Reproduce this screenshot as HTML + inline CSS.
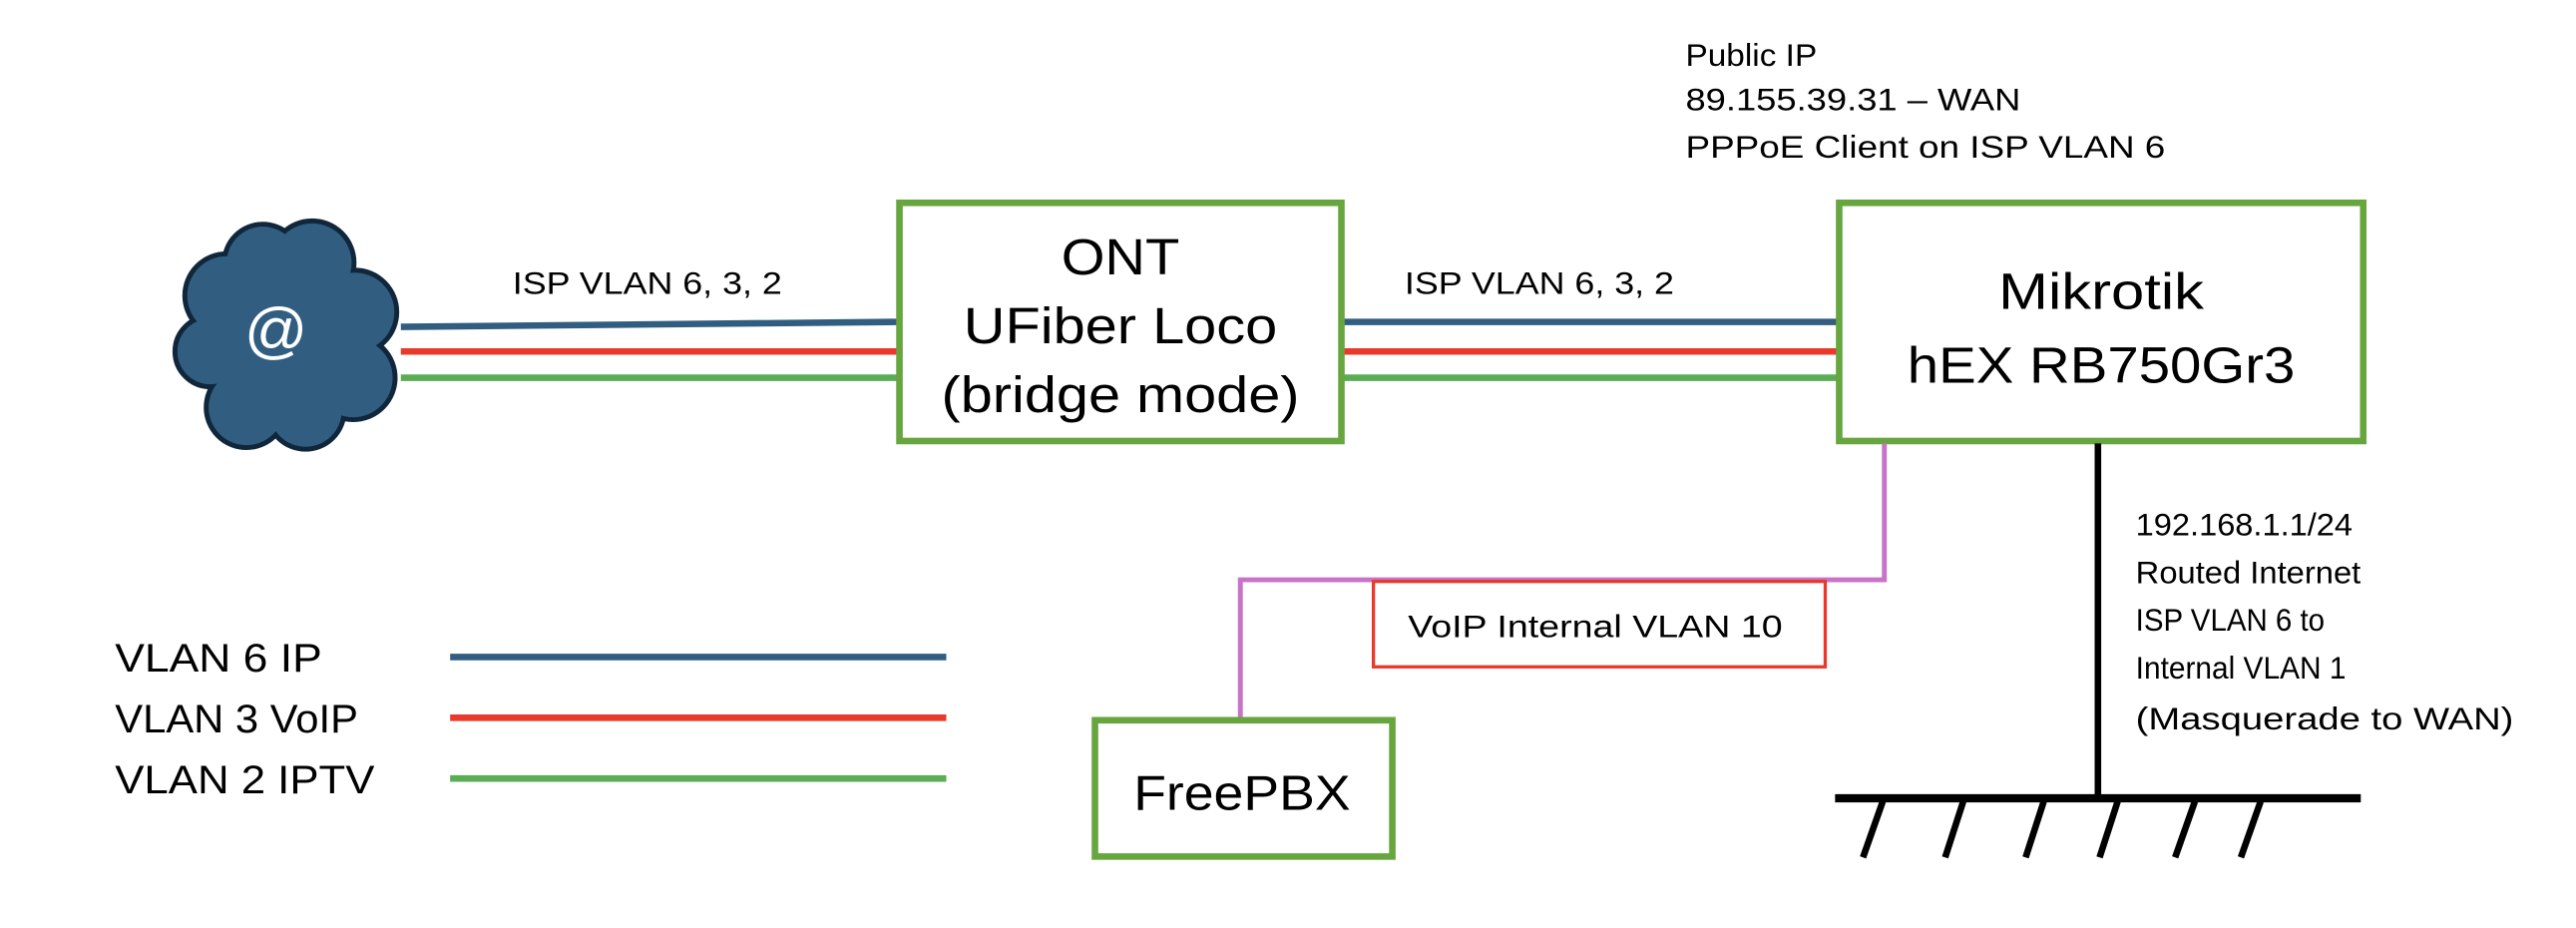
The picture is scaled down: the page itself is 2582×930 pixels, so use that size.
<!DOCTYPE html>
<html><head><style>
html,body{margin:0;padding:0;background:#fff;}
svg{display:block;}
text{font-family:"Liberation Sans",sans-serif;fill:#000;}
</style></head><body>
<svg width="2582" height="930" viewBox="0 0 1568 565" preserveAspectRatio="none" xmlns="http://www.w3.org/2000/svg">
<rect width="1568" height="565" fill="#fff"/>
<!-- cloud -->
<g stroke="#10263a" stroke-width="6" fill="#315e80">
<circle cx="138" cy="180" r="24"/><circle cx="160" cy="160" r="22"/><circle cx="190" cy="160" r="24"/>
<circle cx="216" cy="190" r="24"/><circle cx="215" cy="230" r="24"/><circle cx="186" cy="250" r="22"/>
<circle cx="150" cy="248" r="23"/><circle cx="128" cy="214" r="20"/>
</g>
<g fill="#315e80">
<circle cx="138" cy="180" r="24"/><circle cx="160" cy="160" r="22"/><circle cx="190" cy="160" r="24"/>
<circle cx="216" cy="190" r="24"/><circle cx="215" cy="230" r="24"/><circle cx="186" cy="250" r="22"/>
<circle cx="150" cy="248" r="23"/><circle cx="128" cy="214" r="20"/><circle cx="172" cy="205" r="42"/>
</g>
<text x="168" y="214" font-size="38" text-anchor="middle" style="fill:#fff">@</text>
<!-- left lines -->
<line x1="244" y1="199" x2="546" y2="196" stroke="#315e80" stroke-width="4"/>
<line x1="244" y1="214" x2="546" y2="214" stroke="#e8392a" stroke-width="4"/>
<line x1="244" y1="230" x2="546" y2="230" stroke="#5aad54" stroke-width="4"/>
<text x="312" y="179" font-size="19" textLength="164" lengthAdjust="spacingAndGlyphs">ISP VLAN 6, 3, 2</text>
<!-- right lines -->
<line x1="818" y1="196" x2="1118" y2="196" stroke="#315e80" stroke-width="4"/>
<line x1="818" y1="214" x2="1118" y2="214" stroke="#e8392a" stroke-width="4"/>
<line x1="818" y1="230" x2="1118" y2="230" stroke="#5aad54" stroke-width="4"/>
<text x="855" y="179" font-size="19" textLength="164" lengthAdjust="spacingAndGlyphs">ISP VLAN 6, 3, 2</text>
<!-- ONT box -->
<rect x="547.5" y="123.5" width="269" height="145" fill="#fff" stroke="#67a53f" stroke-width="4"/>
<text x="682" y="167" font-size="31" text-anchor="middle" textLength="72" lengthAdjust="spacingAndGlyphs">ONT</text>
<text x="682" y="209" font-size="31" text-anchor="middle" textLength="191" lengthAdjust="spacingAndGlyphs">UFiber Loco</text>
<text x="682" y="251" font-size="31" text-anchor="middle" textLength="218" lengthAdjust="spacingAndGlyphs">(bridge mode)</text>
<!-- Mikrotik -->
<rect x="1119.5" y="123.5" width="319" height="145" fill="#fff" stroke="#67a53f" stroke-width="4"/>
<text x="1279" y="188" font-size="31" text-anchor="middle" textLength="125" lengthAdjust="spacingAndGlyphs">Mikrotik</text>
<text x="1279" y="233" font-size="31" text-anchor="middle" textLength="236" lengthAdjust="spacingAndGlyphs">hEX RB750Gr3</text>
<text x="1026" y="40" font-size="19" textLength="80" lengthAdjust="spacingAndGlyphs">Public IP</text>
<text x="1026" y="67" font-size="19" textLength="204" lengthAdjust="spacingAndGlyphs">89.155.39.31 – WAN</text>
<text x="1026" y="96" font-size="19" textLength="292" lengthAdjust="spacingAndGlyphs">PPPoE Client  on ISP VLAN 6</text>
<!-- purple -->
<polyline points="1147,270 1147,353 755,353 755,437" fill="none" stroke="#c774c8" stroke-width="3"/>
<rect x="836" y="354" width="275" height="52" fill="#fff" stroke="#e8392a" stroke-width="2"/>
<text x="857" y="388" font-size="19" textLength="228" lengthAdjust="spacingAndGlyphs">VoIP Internal VLAN 10</text>
<!-- FreePBX -->
<rect x="666.5" y="438.5" width="181" height="83" fill="#fff" stroke="#67a53f" stroke-width="4"/>
<text x="756" y="493" font-size="30" text-anchor="middle" textLength="132" lengthAdjust="spacingAndGlyphs">FreePBX</text>
<!-- ground -->
<line x1="1277" y1="270" x2="1277" y2="486" stroke="#000" stroke-width="4"/>
<line x1="1117" y1="486" x2="1437" y2="486" stroke="#000" stroke-width="5"/>
<g stroke="#000" stroke-width="4">
<line x1="1146" y1="488" x2="1134" y2="522"/><line x1="1195" y1="488" x2="1184" y2="522"/>
<line x1="1244" y1="488" x2="1233" y2="522"/><line x1="1289" y1="488" x2="1278" y2="522"/>
<line x1="1336" y1="488" x2="1324" y2="522"/><line x1="1376" y1="488" x2="1364" y2="522"/>
</g>
<text x="1300" y="326" font-size="19" textLength="132" lengthAdjust="spacingAndGlyphs">192.168.1.1/24</text>
<text x="1300" y="355" font-size="19" textLength="137" lengthAdjust="spacingAndGlyphs">Routed Internet</text>
<text x="1300" y="384" font-size="19" textLength="115" lengthAdjust="spacingAndGlyphs">ISP VLAN 6 to</text>
<text x="1300" y="413" font-size="19" textLength="128" lengthAdjust="spacingAndGlyphs">Internal VLAN 1</text>
<text x="1300" y="444" font-size="19" textLength="230" lengthAdjust="spacingAndGlyphs">(Masquerade to WAN)</text>
<!-- legend -->
<text x="70" y="409" font-size="24" textLength="126" lengthAdjust="spacingAndGlyphs">VLAN 6 IP</text>
<text x="70" y="446" font-size="24" textLength="148" lengthAdjust="spacingAndGlyphs">VLAN 3 VoIP</text>
<text x="70" y="483" font-size="24" textLength="158" lengthAdjust="spacingAndGlyphs">VLAN 2 IPTV</text>
<line x1="274" y1="400" x2="576" y2="400" stroke="#315e80" stroke-width="4"/>
<line x1="274" y1="437" x2="576" y2="437" stroke="#e8392a" stroke-width="4"/>
<line x1="274" y1="474" x2="576" y2="474" stroke="#5aad54" stroke-width="4"/>
</svg>
</body></html>
